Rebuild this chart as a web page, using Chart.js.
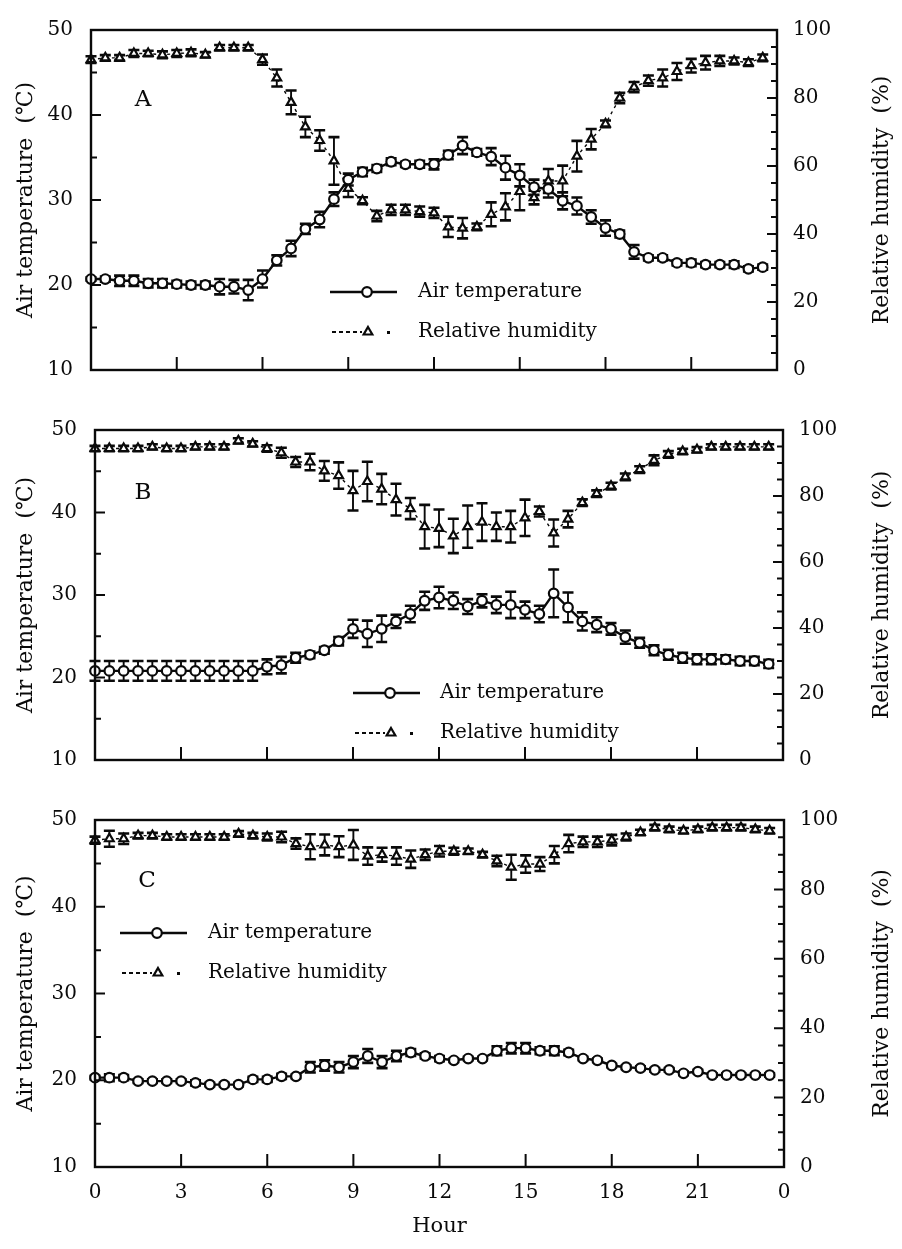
<!DOCTYPE html>
<html>
<head>
<meta charset="utf-8">
<title>Air temperature and relative humidity</title>
<script src="https://cdn.jsdelivr.net/npm/chart.js@4.4.1/dist/chart.umd.min.js"></script>
<style>
  html, body { margin: 0; padding: 0; background: #fff; }
  #page { position: relative; width: 902px; height: 1249px; overflow: hidden; }
  #page canvas { position: absolute; left: 0; }
</style>
</head>
<body>
<div id="page">
  <canvas id="panelA" width="902" height="400" style="top:0px"></canvas>
  <canvas id="panelB" width="902" height="390" style="top:400px"></canvas>
  <canvas id="panelC" width="902" height="459" style="top:790px"></canvas>
</div>
<script>
// half-hour readings, 0:00 .. 23:30
const hours = [0, 0.5, 1, 1.5, 2, 2.5, 3, 3.5, 4, 4.5, 5, 5.5,
  6, 6.5, 7, 7.5, 8, 8.5, 9, 9.5, 10, 10.5, 11, 11.5,
  12, 12.5, 13, 13.5, 14, 14.5, 15, 15.5, 16, 16.5, 17, 17.5,
  18, 18.5, 19, 19.5, 20, 20.5, 21, 21.5, 22, 22.5, 23, 23.5];

// panel A
const tempA = [20.7, 20.7, 20.5, 20.5, 20.2, 20.2, 20.1, 20.0, 20.0, 19.8, 19.8, 19.4,
  20.7, 22.9, 24.3, 26.6, 27.7, 30.1, 32.4, 33.3, 33.7, 34.5, 34.2, 34.2,
  34.2, 35.3, 36.4, 35.6, 35.1, 33.8, 32.9, 31.5, 31.3, 29.9, 29.3, 28.0,
  26.7, 26.0, 23.9, 23.2, 23.2, 22.6, 22.6, 22.4, 22.4, 22.4, 21.9, 22.1];
const tempAErr = [0.2, 0.3, 0.6, 0.6, 0.5, 0.5, 0.4, 0.4, 0.4, 0.9, 0.8, 1.2,
  1.0, 0.6, 0.9, 0.6, 0.9, 0.8, 0.7, 0.5, 0.4, 0.4, 0.3, 0.4,
  0.6, 0.5, 1.0, 0.4, 1.0, 1.4, 1.3, 0.9, 1.0, 1.0, 1.0, 0.8,
  0.9, 0.4, 0.8, 0.3, 0.3, 0.3, 0.4, 0.3, 0.3, 0.4, 0.3, 0.3];
const rhA = [91.3, 91.8, 91.8, 93.1, 93.1, 92.7, 93.1, 93.3, 92.7, 94.8, 94.8, 94.8,
  91.3, 85.9, 78.7, 71.5, 67.5, 61.5, 53.4, 49.8, 45.3, 47.1, 47.1, 46.6,
  46.2, 42.1, 41.7, 42.1, 45.8, 48.0, 52.5, 50.7, 55.6, 55.6, 62.9, 67.9,
  72.4, 80.0, 83.2, 85.1, 85.9, 87.8, 89.5, 90.4, 90.9, 90.9, 90.4, 91.8];
const rhAErr = [1.0, 0.8, 0.8, 1.0, 0.8, 1.0, 1.0, 1.0, 0.8, 0.8, 0.8, 0.8,
  1.5, 2.5, 3.5, 3.0, 3.0, 7.0, 2.5, 1.0, 1.5, 1.5, 1.5, 1.5,
  1.5, 3.0, 3.0, 1.0, 3.5, 4.0, 5.5, 2.0, 3.5, 4.5, 4.5, 3.0,
  1.0, 1.5, 1.5, 1.5, 2.5, 2.5, 2.0, 2.0, 1.5, 1.0, 1.0, 1.0];

// panel B
const tempB = [20.8, 20.8, 20.8, 20.8, 20.8, 20.8, 20.8, 20.8, 20.8, 20.8, 20.8, 20.8,
  21.3, 21.5, 22.4, 22.75, 23.3, 24.4, 25.9, 25.3, 25.9, 26.8, 27.7, 29.3,
  29.7, 29.3, 28.6, 29.3, 28.8, 28.8, 28.2, 27.7, 30.2, 28.5, 26.8, 26.4,
  25.9, 24.9, 24.2, 23.3, 22.75, 22.4, 22.2, 22.2, 22.2, 22.0, 22.0, 21.65];
const tempBErr = [1.2, 1.2, 1.2, 1.2, 1.2, 1.2, 1.2, 1.2, 1.2, 1.2, 1.2, 1.2,
  0.9, 1.0, 0.6, 0.4, 0.4, 0.5, 1.1, 1.6, 1.6, 0.8, 1.0, 1.1,
  1.3, 1.0, 0.9, 0.8, 1.0, 1.6, 1.0, 1.0, 2.9, 1.8, 1.1, 0.9,
  0.7, 0.8, 0.6, 0.6, 0.6, 0.6, 0.6, 0.6, 0.5, 0.5, 0.5, 0.5];
const rhB = [94.4, 94.4, 94.4, 94.4, 94.9, 94.4, 94.4, 94.9, 94.9, 94.9, 96.7, 95.8,
  94.4, 93.1, 90.3, 90.3, 87.6, 86.2, 81.6, 84.4, 82.1, 78.9, 76.2, 70.7,
  70.2, 67.9, 70.7, 72.1, 70.7, 70.7, 73.4, 75.3, 68.8, 73.0, 78.0, 80.7,
  83.0, 85.8, 88.0, 90.8, 92.6, 93.5, 94.0, 94.9, 94.9, 94.9, 94.9, 94.9];
const rhBErr = [0.8, 0.8, 0.8, 0.8, 0.8, 0.8, 0.8, 0.8, 0.8, 0.8, 0.8, 0.8,
  1.0, 1.5, 1.5, 2.5, 3.0, 4.0, 6.0, 6.0, 4.6, 4.8, 3.2, 6.6,
  5.7, 5.2, 6.4, 5.7, 4.3, 4.8, 5.5, 1.5, 4.1, 2.5, 1.0, 1.0,
  1.0, 1.0, 1.0, 1.5, 1.0, 0.8, 0.8, 0.8, 0.8, 0.8, 0.8, 0.8];

// panel C
const tempC = [20.3, 20.3, 20.3, 19.9, 19.9, 19.9, 19.9, 19.7, 19.5, 19.5, 19.5, 20.1,
  20.1, 20.45, 20.45, 21.5, 21.7, 21.5, 22.1, 22.8, 22.1, 22.8, 23.2, 22.8,
  22.5, 22.3, 22.5, 22.5, 23.4, 23.7, 23.7, 23.4, 23.4, 23.2, 22.5, 22.3,
  21.7, 21.5, 21.4, 21.2, 21.2, 20.8, 21.0, 20.6, 20.6, 20.6, 20.6, 20.6];
const tempCErr = [0.2, 0.4, 0.3, 0.2, 0.2, 0.2, 0.2, 0.3, 0.2, 0.2, 0.2, 0.3,
  0.3, 0.3, 0.2, 0.6, 0.6, 0.6, 0.7, 0.8, 0.7, 0.6, 0.4, 0.3,
  0.3, 0.2, 0.2, 0.2, 0.5, 0.6, 0.6, 0.4, 0.5, 0.3, 0.2, 0.2,
  0.2, 0.2, 0.2, 0.2, 0.2, 0.2, 0.2, 0.2, 0.2, 0.2, 0.2, 0.2];
const rhC = [94.2, 94.6, 94.6, 95.5, 95.5, 95.1, 95.1, 95.1, 95.1, 95.1, 96.0, 95.5,
  95.1, 95.1, 93.2, 92.3, 92.8, 92.3, 92.8, 89.6, 90.0, 89.6, 88.7, 90.0,
  91.0, 91.0, 91.0, 90.0, 88.2, 86.4, 87.3, 87.3, 90.0, 93.2, 93.7, 93.7,
  94.2, 95.1, 96.4, 97.8, 97.3, 96.9, 97.3, 97.8, 97.8, 97.8, 97.3, 96.9];
const rhCErr = [1.0, 2.3, 1.5, 0.8, 0.8, 0.8, 0.8, 0.8, 0.8, 0.8, 0.8, 0.8,
  1.0, 1.5, 1.5, 3.6, 3.0, 3.0, 4.3, 2.5, 2.0, 2.5, 2.5, 1.5,
  1.5, 1.0, 0.8, 0.8, 1.5, 3.6, 2.5, 2.0, 2.5, 2.5, 1.5, 1.5,
  1.5, 1.0, 0.8, 0.8, 0.8, 0.8, 0.8, 0.8, 0.8, 0.8, 0.8, 0.8];

// axis ticks
const hourTicks = [0, 3, 6, 9, 12, 15, 18, 21, 24];
const hourTickLabels = ['0', '3', '6', '9', '12', '15', '18', '21', '0'];
const tempTicks = [10, 20, 30, 40, 50];
const rhTicks = [0, 20, 40, 60, 80, 100];

const INK = '#0a0a0a';
const FONT = '"DejaVu Serif", "Liberation Serif", serif';

// error bars, frame with inward ticks, titles, letter and legend
const panelDeco = {
  id: 'panelDeco',
  beforeDatasetsDraw(chart) {
    const ctx = chart.ctx;
    ctx.save();
    ctx.strokeStyle = INK;
    chart.data.datasets.forEach((ds, i) => {
      const meta = chart.getDatasetMeta(i);
      const sc = chart.scales[ds.yAxisID];
      meta.data.forEach((pt, j) => {
        const v = ds.data[j].y, e = ds.errors[j];
        const hi = sc.getPixelForValue(v + e);
        const lo = sc.getPixelForValue(v - e);
        ctx.lineWidth = 1.9;
        ctx.beginPath();
        ctx.moveTo(pt.x, hi); ctx.lineTo(pt.x, lo);
        ctx.stroke();
        ctx.lineWidth = 2.6;
        ctx.beginPath();
        ctx.moveTo(pt.x - 5.5, hi); ctx.lineTo(pt.x + 5.5, hi);
        ctx.moveTo(pt.x - 5.5, lo); ctx.lineTo(pt.x + 5.5, lo);
        ctx.stroke();
      });
    });
    ctx.restore();
  },
  afterDraw(chart, args, opts) {
    const ctx = chart.ctx;
    const a = chart.chartArea;
    const { x, y, y1 } = chart.scales;
    ctx.save();
    ctx.strokeStyle = INK;
    ctx.fillStyle = INK;

    ctx.lineWidth = 2.4;
    ctx.strokeRect(a.left, a.top, a.right - a.left, a.bottom - a.top);

    ctx.lineWidth = 2;
    ctx.beginPath();
    for (let v = 15; v < 50; v += 5) {
      const py = y.getPixelForValue(v);
      ctx.moveTo(a.left, py); ctx.lineTo(a.left + (v % 10 ? 6 : 10), py);
    }
    for (let v = 5; v < 100; v += 5) {
      const py = y1.getPixelForValue(v);
      ctx.moveTo(a.right, py); ctx.lineTo(a.right - (v % 20 ? 6 : 10), py);
    }
    for (let v = 3; v < 24; v += 3) {
      const px = x.getPixelForValue(v);
      ctx.moveTo(px, a.bottom); ctx.lineTo(px, a.bottom - 13);
    }
    ctx.stroke();

    // panel letter
    ctx.textAlign = 'center';
    ctx.textBaseline = 'middle';
    ctx.font = '23px ' + FONT;
    ctx.fillText(opts.letter, opts.letterX, opts.letterY);

    // axis titles, both read bottom to top
    const cy = (a.top + a.bottom) / 2;
    ctx.font = '22px ' + FONT;
    ctx.save();
    ctx.translate(26, cy);
    ctx.rotate(-Math.PI / 2);
    ctx.fillText('Air temperature  (\u2103)', 0, 0);
    ctx.restore();
    ctx.save();
    ctx.translate(882, cy);
    ctx.rotate(-Math.PI / 2);
    ctx.fillText('Relative humidity  (%)', 0, 0);
    ctx.restore();

    if (opts.hourY) {
      ctx.font = '21px ' + FONT;
      ctx.fillText('Hour', (a.left + a.right) / 2, opts.hourY);
    }

    // legend
    const lx = opts.legendX, ly = opts.legendY, ly2 = ly + 40;
    ctx.lineWidth = 2.4;
    ctx.beginPath();
    ctx.moveTo(lx, ly); ctx.lineTo(lx + 67, ly);
    ctx.stroke();
    ctx.fillStyle = '#fff';
    ctx.lineWidth = 2.2;
    ctx.beginPath();
    ctx.arc(lx + 37, ly, 4.8, 0, Math.PI * 2);
    ctx.fill(); ctx.stroke();

    ctx.lineWidth = 2;
    ctx.setLineDash([4, 3]);
    ctx.beginPath();
    ctx.moveTo(lx + 2, ly2); ctx.lineTo(lx + 32, ly2);
    ctx.stroke();
    ctx.setLineDash([]);
    const r = 5, tx = lx + 38;
    ctx.lineWidth = 2.2;
    ctx.beginPath();
    ctx.moveTo(tx, ly2 - r);
    ctx.lineTo(tx + r * 0.866, ly2 + r * 0.5);
    ctx.lineTo(tx - r * 0.866, ly2 + r * 0.5);
    ctx.closePath();
    ctx.fill(); ctx.stroke();
    ctx.fillStyle = INK;
    ctx.fillRect(lx + 57, ly2 - 1, 3, 3);

    ctx.textAlign = 'left';
    ctx.font = '20px ' + FONT;
    ctx.fillText('Air temperature', opts.legendTextX, ly);
    ctx.fillText('Relative humidity', opts.legendTextX, ly2);

    ctx.restore();
  }
};

const tickFont = { family: FONT, size: 20 };

function setTicks(values) {
  return scale => { scale.ticks = values.map(v => ({ value: v })); };
}

function makePanel(id, p) {
  const temp = hours.map((h, i) => ({ x: h, y: p.temp[i] }));
  const rh = hours.map((h, i) => ({ x: h, y: p.rh[i] }));
  return new Chart(document.getElementById(id), {
    type: 'line',
    data: {
      datasets: [
        {
          label: 'Air temperature',
          data: temp,
          errors: p.tempErr,
          yAxisID: 'y',
          borderColor: INK,
          borderWidth: 2.4,
          tension: 0,
          pointStyle: 'circle',
          pointRadius: 4.8,
          pointBorderWidth: 2.2,
          pointBackgroundColor: '#fff',
          pointBorderColor: INK,
          clip: 12
        },
        {
          label: 'Relative humidity',
          data: rh,
          errors: p.rhErr,
          yAxisID: 'y1',
          borderColor: INK,
          borderWidth: 1.4,
          borderDash: [3, 4],
          tension: 0,
          pointStyle: 'triangle',
          pointRadius: 5,
          pointBorderWidth: 2.2,
          pointBackgroundColor: '#fff',
          pointBorderColor: INK,
          clip: 12
        }
      ]
    },
    options: {
      responsive: false,
      animation: false,
      events: [],
      layout: { padding: { top: p.top, left: 0, right: 0, bottom: 0 } },
      plugins: {
        legend: { display: false },
        tooltip: { enabled: false },
        panelDeco: p.deco
      },
      scales: {
        x: {
          type: 'linear', min: 0, max: 24, position: 'bottom',
          grid: { display: false, drawTicks: false },
          border: { display: false },
          afterBuildTicks: setTicks(hourTicks),
          afterFit: s => { s.height = p.xHeight; },
          ticks: {
            display: p.showHours, font: tickFont, color: INK, padding: 14,
            maxRotation: 0, autoSkip: false,
            callback: (v, i) => hourTickLabels[i]
          }
        },
        y: {
          type: 'linear', min: 10, max: 50, position: 'left',
          grid: { display: false, drawTicks: false },
          border: { display: false },
          afterBuildTicks: setTicks(tempTicks),
          afterFit: s => { s.width = p.left; },
          ticks: { font: tickFont, color: INK, padding: 18, autoSkip: false }
        },
        y1: {
          type: 'linear', min: 0, max: 100, position: 'right',
          grid: { display: false, drawTicks: false },
          border: { display: false },
          afterBuildTicks: setTicks(rhTicks),
          afterFit: s => { s.width = 902 - p.right; },
          ticks: { font: tickFont, color: INK, padding: 16, autoSkip: false }
        }
      }
    },
    plugins: [panelDeco]
  });
}

makePanel('panelA', {
  temp: tempA, tempErr: tempAErr, rh: rhA, rhErr: rhAErr,
  top: 18, xHeight: 13, left: 91, right: 777, showHours: false,
  deco: { letter: 'A', letterX: 143, letterY: 100, legendX: 330, legendTextX: 418, legendY: 292 }
});
makePanel('panelB', {
  temp: tempB, tempErr: tempBErr, rh: rhB, rhErr: rhBErr,
  top: 13, xHeight: 12, left: 95, right: 783, showHours: false,
  deco: { letter: 'B', letterX: 143, letterY: 93, legendX: 353, legendTextX: 440, legendY: 293 }
});
makePanel('panelC', {
  temp: tempC, tempErr: tempCErr, rh: rhC, rhErr: rhCErr,
  top: 12, xHeight: 82, left: 95, right: 784, showHours: true,
  deco: { letter: 'C', letterX: 147, letterY: 91, legendX: 120, legendTextX: 208, legendY: 143, hourY: 437 }
});
</script>
</body>
</html>
